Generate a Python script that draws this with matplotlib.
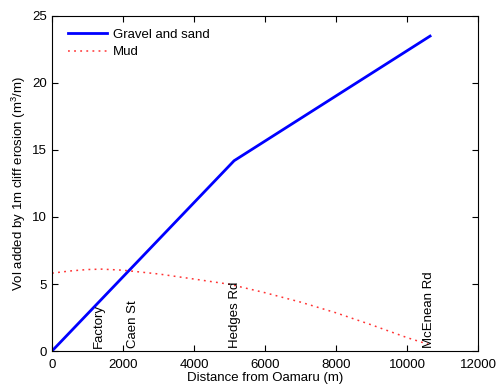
import matplotlib
matplotlib.use("Agg")
import matplotlib.pyplot as plt

plt.rcParams['font.family'] = ['Liberation Sans', 'DejaVu Sans']
plt.rcParams['mathtext.fontset'] = 'custom'
plt.rcParams['mathtext.rm'] = 'Liberation Sans'

# gravel and sand volume along the coast
gravel_x = [0, 5130, 10650]
gravel_y = [0.0, 14.2, 23.5]

# mud volume
mud_x = [0, 500, 1000, 1400, 2000, 3000, 4000, 5000, 6000, 7000, 8000, 9000, 10000, 10600]
mud_y = [5.81, 5.97, 6.08, 6.11, 6.03, 5.75, 5.37, 4.98, 4.35, 3.65, 2.85, 1.95, 1.0, 0.5]

# landmarks
places = ["Factory", "Caen St", "Hedges Rd", "McEnean Rd"]
place_x = [1320, 2270, 5155, 10630]

fs = 9.5

fig = plt.figure(figsize=(4.97, 3.87), dpi=100)
ax = fig.add_axes([0.1046, 0.093, 0.8572, 0.8657])

ax.plot(gravel_x, gravel_y, color='#0000ff', lw=2, label='Gravel and sand')
ax.plot(mud_x, mud_y, color='#ff3333', lw=1.1, ls=(0, (1.2, 2.8)), label='Mud')

for name, x in zip(places, place_x):
    ax.text(x, 0.25, name, rotation=90, ha='center', va='bottom', fontsize=fs)

ax.set_xlim(0, 12000)
ax.set_ylim(0, 25)
ax.set_xticks(range(0, 12001, 2000))
ax.set_yticks(range(0, 26, 5))
ax.tick_params(direction='in', top=True, right=True, length=4, labelsize=fs)
ax.tick_params(axis='x', pad=5.5)
ax.set_xlabel('Distance from Oamaru (m)', fontsize=fs, labelpad=1)
ax.set_ylabel('Vol added by 1m cliff erosion (m$^3$/m)', fontsize=fs, labelpad=3)

ax.legend(loc='upper left', bbox_to_anchor=(0.012, 0.994), frameon=False,
          fontsize=fs, handlelength=3.0, borderaxespad=0.4, labelspacing=0.4,
          handletextpad=0.4)

fig.savefig('out.png', dpi=100)
